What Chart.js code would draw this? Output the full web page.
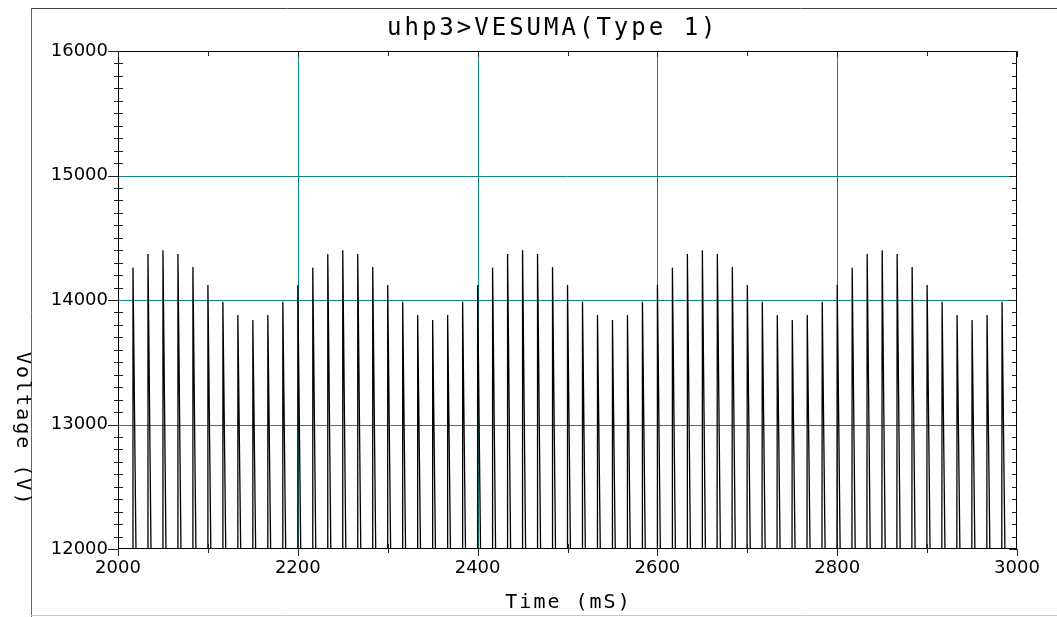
<!DOCTYPE html>
<html>
<head>
<meta charset="utf-8">
<script src="https://cdn.jsdelivr.net/npm/chart.js@4.4.1/dist/chart.umd.min.js"></script>
<style>
    html, body { margin: 0; padding: 0; background: #ffffff; }
    #wrap { width: 1057px; height: 617px; }
</style>
</head>
<body>
<div id="wrap"><canvas id="myChart" width="1057" height="617"></canvas></div>
<script>
const chartTitle = 'uhp3>VESUMA(Type 1)';
const xTitle = 'Time (mS)';
const yTitle = 'Voltage (V)';

const xRange = [2000, 3000];
const yRange = [12000, 16000];
const xStep = 200;
const yStep = 1000;

// peak voltage of each pulse, left to right (the last one sits on the 3000 edge)
const peaks = [
    14260, 14370, 14400, 14370, 14265, 14120, 13985, 13880, 13840, 13880, 13985, 14120,
    14260, 14370, 14400, 14370, 14265, 14120, 13985, 13880, 13840, 13880, 13985, 14120,
    14260, 14370, 14400, 14370, 14265, 14120, 13985, 13880, 13840, 13880, 13985, 14120,
    14260, 14370, 14400, 14370, 14265, 14120, 13985, 13880, 13840, 13880, 13985, 14120,
    14260, 14370, 14400, 14370, 14265, 14120, 13985, 13880, 13840, 13880, 13985, 14120
];
const period = 16.667;   // ms between pulses
const riseMs = 0.4;      // steep leading edge
const fallMs = 4.8;      // slower trailing edge
const baseV = 11000;     // floor between pulses (below the visible range)

const points = [{x: 1990, y: baseV}];
peaks.forEach(function (v, i) {
    const t = xRange[0] + period * (i + 1);
    points.push({x: t - riseMs, y: baseV});
    points.push({x: t, y: v});
    points.push({x: t + fallMs, y: baseV});
});

const teal = '#0f8585';

const framePlugin = {
    id: 'frame',
    beforeDraw: function (chart) {
        const ctx = chart.ctx;
        ctx.save();
        ctx.lineWidth = 1;
        ctx.strokeStyle = '#666666';
        ctx.beginPath();
        ctx.moveTo(31.5, 8);
        ctx.lineTo(31.5, 617);
        ctx.stroke();
        ctx.strokeStyle = '#444444';
        ctx.beginPath();
        ctx.moveTo(31, 8.5);
        ctx.lineTo(1057, 8.5);
        ctx.stroke();
        ctx.strokeStyle = '#c8c8c8';
        ctx.beginPath();
        ctx.moveTo(31, 615.5);
        ctx.lineTo(1057, 615.5);
        ctx.stroke();
        ctx.restore();
    },
    beforeDatasetsDraw: function (chart) {
        // teal grid at the inner major ticks, under the trace
        const ctx = chart.ctx;
        const a = chart.chartArea;
        const xs = chart.scales.x;
        const ys = chart.scales.y;
        ctx.save();
        ctx.strokeStyle = teal;
        ctx.lineWidth = 1;
        ctx.beginPath();
        for (let v = yRange[0] + yStep; v < yRange[1]; v += yStep) {
            const py = Math.round(ys.getPixelForValue(v)) + 0.5;
            ctx.moveTo(a.left, py); ctx.lineTo(a.right, py);
        }
        for (let v = xRange[0] + xStep; v < xRange[1]; v += xStep) {
            const px = Math.round(xs.getPixelForValue(v)) + 0.5;
            ctx.moveTo(px, a.top); ctx.lineTo(px, a.bottom);
        }
        ctx.stroke();
        ctx.restore();
    },
    afterDraw: function (chart) {
        const ctx = chart.ctx;
        const a = chart.chartArea;
        const xs = chart.scales.x;
        const ys = chart.scales.y;
        ctx.save();
        ctx.strokeStyle = '#000000';
        ctx.lineWidth = 1;
        ctx.strokeRect(a.left + 0.5, a.top + 0.5, a.right - a.left - 1, a.bottom - a.top - 1);

        // y ticks, every 100 V
        ctx.strokeStyle = '#222222';
        ctx.beginPath();
        for (let v = yRange[0]; v <= yRange[1]; v += 100) {
            const py = Math.round(ys.getPixelForValue(v)) + 0.5;
            if (v % yStep === 0) {
                ctx.moveTo(a.left - 10, py); ctx.lineTo(a.left, py);
                ctx.moveTo(a.right - 8, py); ctx.lineTo(a.right, py);
            } else {
                ctx.moveTo(a.left - 4, py); ctx.lineTo(a.left + 5, py);
                ctx.moveTo(a.right - 5, py); ctx.lineTo(a.right, py);
            }
        }
        // x ticks, every 100 ms
        for (let v = xRange[0]; v <= xRange[1]; v += 100) {
            const px = Math.round(xs.getPixelForValue(v)) + 0.5;
            if (v % xStep === 0) {
                ctx.moveTo(px, a.bottom); ctx.lineTo(px, a.bottom + 7);
                ctx.moveTo(px, a.top); ctx.lineTo(px, a.top + 6);
            } else {
                ctx.moveTo(px, a.bottom - 5); ctx.lineTo(px, a.bottom + 4);
                ctx.moveTo(px, a.top); ctx.lineTo(px, a.top + 5);
            }
        }
        ctx.stroke();

        // titles
        ctx.fillStyle = '#000000';
        ctx.textBaseline = 'alphabetic';
        ctx.textAlign = 'left';
        ctx.font = '24px "DejaVu Sans Mono"';
        ctx.letterSpacing = '3px';
        ctx.fillText(chartTitle, 387, 35);
        ctx.textAlign = 'center';
        ctx.font = '20px "DejaVu Sans Mono"';
        ctx.letterSpacing = '2px';
        ctx.fillText(xTitle, (a.left + a.right) / 2 + 1, 608);
        ctx.translate(17, 352);
        ctx.rotate(Math.PI / 2);
        ctx.textAlign = 'left';
        ctx.fillText(yTitle, 0, 0);
        ctx.restore();
    }
};

const data = {
    datasets: [{
        label: 'VESUMA',
        data: points,
        borderColor: '#000000',
        borderWidth: 1.3,
        pointRadius: 0,
        tension: 0,
        fill: false
    }]
};

const config = {
    type: 'line',
    data: data,
    options: {
        responsive: false,
        animation: false,
        layout: {
            padding: {left: 0, right: 40, top: 51, bottom: 0}
        },
        plugins: {
            legend: {display: false},
            tooltip: {enabled: false}
        },
        scales: {
            x: {
                type: 'linear',
                min: xRange[0],
                max: xRange[1],
                afterFit: function (s) { s.height = 68; },
                border: {display: false},
                grid: {display: false, drawTicks: false},
                ticks: {
                    stepSize: xStep,
                    maxRotation: 0,
                    padding: 9,
                    color: '#000000',
                    font: {family: 'DejaVu Sans', size: 18},
                    callback: function (v) { return String(v); }
                }
            },
            y: {
                type: 'linear',
                min: yRange[0],
                max: yRange[1],
                afterFit: function (s) { s.width = 118; },
                border: {display: false},
                grid: {display: false, drawTicks: false},
                ticks: {
                    stepSize: yStep,
                    padding: 10,
                    color: '#000000',
                    font: {family: 'DejaVu Sans', size: 18},
                    callback: function (v) { return String(v); }
                }
            }
        }
    },
    plugins: [framePlugin]
};

const myChart = new Chart(document.getElementById('myChart'), config);
</script>
</body>
</html>
